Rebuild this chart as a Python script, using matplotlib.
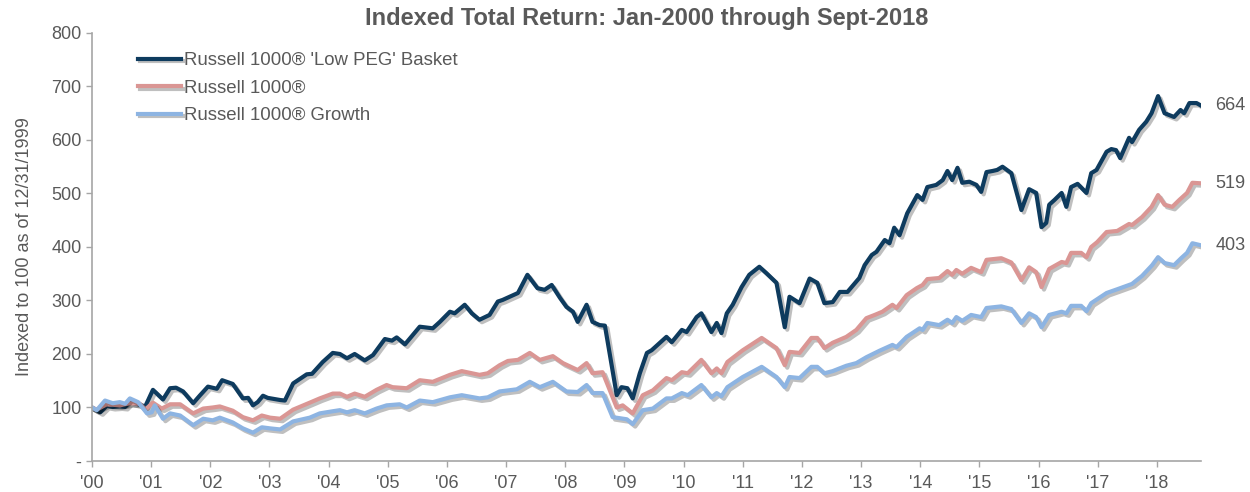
import matplotlib
matplotlib.use("Agg")
from matplotlib import pyplot as plt
import matplotlib.patheffects as pe

# data (decimal year, index level)
peg_x = [2000.00, 2000.14, 2000.25, 2000.35, 2000.47, 2000.56, 2000.64, 2000.78, 2000.90,
         2001.03, 2001.20, 2001.32, 2001.42, 2001.54, 2001.71, 2001.82, 2001.96,
         2002.11, 2002.20, 2002.38, 2002.55, 2002.64, 2002.72, 2002.80, 2002.89, 2002.97,
         2003.18, 2003.26, 2003.40, 2003.63, 2003.72, 2003.90,
         2004.07, 2004.19, 2004.31, 2004.44, 2004.61, 2004.75, 2004.95,
         2005.07, 2005.15, 2005.29, 2005.42, 2005.54, 2005.76, 2005.88,
         2006.05, 2006.13, 2006.30, 2006.42, 2006.55, 2006.72, 2006.86, 2006.94,
         2007.06, 2007.20, 2007.36, 2007.53, 2007.65, 2007.77, 2007.91,
         2008.02, 2008.13, 2008.21, 2008.36, 2008.46, 2008.58, 2008.67, 2008.87, 2008.95,
         2009.05, 2009.14, 2009.26, 2009.38, 2009.46, 2009.71, 2009.80, 2009.97,
         2010.05, 2010.22, 2010.30, 2010.47, 2010.56, 2010.64, 2010.73, 2010.83, 2010.98,
         2011.11, 2011.28, 2011.40, 2011.57, 2011.71, 2011.79, 2011.96,
         2012.13, 2012.26, 2012.38, 2012.52, 2012.64, 2012.77, 2012.97,
         2013.06, 2013.18, 2013.26, 2013.40, 2013.48, 2013.56, 2013.65, 2013.78, 2013.95,
         2014.04, 2014.12, 2014.27, 2014.38, 2014.46, 2014.54, 2014.63, 2014.71, 2014.83, 2014.95,
         2015.03, 2015.12, 2015.22, 2015.30, 2015.39, 2015.54, 2015.71, 2015.84, 2015.96,
         2016.05, 2016.13, 2016.18, 2016.27, 2016.39, 2016.47, 2016.55, 2016.66, 2016.81, 2016.89, 2016.98,
         2017.15, 2017.23, 2017.31, 2017.38, 2017.53, 2017.58, 2017.70, 2017.82, 2017.91,
         2018.02, 2018.13, 2018.29, 2018.40, 2018.46, 2018.55, 2018.67, 2018.75]
peg_y = [100, 91, 103, 101, 102, 101, 110, 106, 102,
         133, 115, 136, 137, 130, 108, 122, 139,
         135, 151, 144, 117, 118, 104, 110, 122, 118,
         114, 113, 145, 162, 163, 185,
         202, 200, 192, 200, 188, 198, 228,
         225, 231, 218, 235, 251, 248, 260,
         279, 276, 292, 276, 264, 273, 298, 301,
         307, 314, 348, 323, 320, 329, 305,
         288, 279, 260, 292, 260, 254, 253, 123, 138,
         136, 117, 164, 202, 207, 232, 222, 245,
         241, 269, 276, 241, 258, 239, 276, 292, 325,
         348, 363, 351, 333, 250, 307, 295,
         341, 333, 295, 297, 316, 316, 342,
         366, 385, 391, 413, 407, 436, 422, 463, 497,
         488, 512, 516, 525, 542, 525, 548, 520, 522, 516,
         503, 540, 542, 544, 550, 538, 469, 508, 501,
         437, 445, 479, 488, 501, 475, 512, 518, 501, 538, 544,
         578, 583, 581, 566, 604, 596, 619, 634, 650,
         682, 650, 643, 656, 650, 669, 669, 664]

r1000_x = [2000.00, 2000.08, 2000.25, 2000.47, 2000.64, 2000.81, 2000.90,
           2001.03, 2001.18, 2001.32, 2001.49, 2001.71, 2001.88,
           2002.04, 2002.16, 2002.38, 2002.55, 2002.72, 2002.87,
           2003.01, 2003.18, 2003.40, 2003.68, 2003.85,
           2004.07, 2004.19, 2004.31, 2004.44, 2004.61, 2004.81, 2004.98,
           2005.08, 2005.32, 2005.54, 2005.76,
           2006.05, 2006.25, 2006.55, 2006.69, 2006.89,
           2007.03, 2007.20, 2007.40, 2007.57, 2007.79, 2007.96,
           2008.21, 2008.36, 2008.46, 2008.63, 2008.87, 2008.97,
           2009.14, 2009.31, 2009.48, 2009.71, 2009.80, 2009.97,
           2010.07, 2010.30, 2010.47, 2010.56, 2010.64, 2010.74,
           2011.00, 2011.32, 2011.57, 2011.71, 2011.79, 2011.96,
           2012.16, 2012.26, 2012.38, 2012.52, 2012.75, 2012.92,
           2013.09, 2013.23, 2013.36, 2013.53, 2013.60, 2013.77, 2013.94,
           2014.04, 2014.12, 2014.32, 2014.46, 2014.54, 2014.61, 2014.71, 2014.86,
           2015.03, 2015.12, 2015.37, 2015.54, 2015.71, 2015.84, 2015.96,
           2016.05, 2016.18, 2016.39, 2016.47, 2016.55, 2016.72, 2016.81, 2016.89, 2016.99,
           2017.15, 2017.33, 2017.53, 2017.58, 2017.75, 2017.91,
           2018.02, 2018.13, 2018.26, 2018.38, 2018.51, 2018.60, 2018.75]
r1000_y = [100, 96, 106, 104, 108, 107, 96,
           109, 98, 106, 106, 89, 98,
           100, 102, 94, 82, 76, 85,
           81, 79, 96, 109, 117,
           126, 126, 120, 126, 120, 133, 142,
           138, 136, 151, 148,
           161, 168, 161, 164, 179,
           187, 189, 202, 189, 196, 183,
           170, 183, 164, 166, 100, 104,
           89, 123, 132, 155, 151, 166,
           164, 189, 164, 173, 164, 185,
           207, 230, 211, 179, 204, 202,
           230, 230, 211, 221, 232, 245,
           267, 273, 279, 292, 286, 310, 323,
           329, 340, 342, 355, 348, 357, 350, 361,
           353, 376, 379, 371, 338, 362, 353,
           325, 359, 372, 370, 389, 389, 381, 400, 409,
           428, 430, 443, 441, 456, 475,
           497, 479, 475, 488, 501, 520, 519]

growth_x = [2000.00, 2000.08, 2000.22, 2000.35, 2000.47, 2000.56, 2000.64, 2000.78, 2000.93,
            2001.01, 2001.06, 2001.20, 2001.32, 2001.49, 2001.71, 2001.88,
            2002.04, 2002.16, 2002.38, 2002.55, 2002.72, 2002.87,
            2003.01, 2003.18, 2003.40, 2003.68, 2003.85,
            2004.07, 2004.19, 2004.31, 2004.44, 2004.61, 2004.81, 2004.98,
            2005.20, 2005.32, 2005.54, 2005.76,
            2006.05, 2006.25, 2006.55, 2006.69, 2006.89,
            2007.18, 2007.40, 2007.57, 2007.79,
            2008.02, 2008.21, 2008.36, 2008.46, 2008.63, 2008.80, 2008.92,
            2009.04, 2009.14, 2009.31, 2009.48, 2009.71, 2009.80, 2009.97,
            2010.07, 2010.30, 2010.47, 2010.56, 2010.64, 2010.74,
            2011.00, 2011.32, 2011.57, 2011.71, 2011.79, 2011.96,
            2012.16, 2012.26, 2012.38, 2012.52, 2012.75, 2012.92,
            2013.09, 2013.31, 2013.53, 2013.60, 2013.77, 2013.99,
            2014.04, 2014.12, 2014.32, 2014.46, 2014.54, 2014.61, 2014.71, 2014.86,
            2015.03, 2015.12, 2015.37, 2015.54, 2015.71, 2015.84, 2015.96,
            2016.05, 2016.18, 2016.39, 2016.47, 2016.55, 2016.72, 2016.81, 2016.89,
            2017.15, 2017.33, 2017.58, 2017.75, 2017.92,
            2018.02, 2018.13, 2018.29, 2018.41, 2018.51, 2018.60, 2018.75]
growth_y = [100, 95, 113, 108, 110, 107, 117, 110, 89,
            91, 104, 79, 89, 85, 67, 79,
            76, 81, 72, 61, 53, 63,
            61, 59, 74, 81, 89,
            93, 95, 91, 95, 89, 98, 104,
            106, 100, 113, 110,
            119, 123, 117, 119, 130,
            134, 148, 138, 148,
            130, 129, 142, 127, 127, 82, 80,
            78, 69, 95, 98, 117, 117, 127,
            123, 142, 119, 127, 121, 138,
            157, 176, 157, 138, 157, 155,
            176, 176, 164, 168, 178, 183,
            194, 206, 217, 213, 232, 248,
            245, 258, 254, 264, 258, 269, 262, 273,
            269, 286, 289, 284, 258, 276, 269,
            250, 273, 279, 276, 290, 290, 280, 295,
            314, 321, 331, 346, 366,
            381, 370, 366, 379, 389, 407, 403]

names = ["Russell 1000\u00ae 'Low PEG' Basket", "Russell 1000\u00ae", "Russell 1000\u00ae Growth"]
colors = ["#0e3b5e", "#da9694", "#8db4e2"]
year_ticks = list(range(2000, 2019))
year_labels = ["'%02d" % (y % 100) for y in year_ticks]
y_ticks = [0, 100, 200, 300, 400, 500, 600, 700, 800]
y_labels = ["-"] + [str(v) for v in y_ticks[1:]]

plt.rcParams['font.family'] = ['Liberation Sans', 'DejaVu Sans']
grey = "#595959"

fig = plt.figure(figsize=(12.5, 4.92), dpi=100)
ax = fig.add_axes([0.0736, 0.063, 0.8874, 0.87])

shadow = [pe.SimpleLineShadow(offset=(1.8, -1.8), shadow_color='#000000', alpha=0.25),
          pe.Normal()]
series = [(peg_x, peg_y), (r1000_x, r1000_y), (growth_x, growth_y)]
for (xs, ys), nm, c in zip(series, names, colors):
    ax.plot(xs, ys, color=c, lw=3, label=nm, path_effects=shadow,
            solid_joinstyle='round')
    ax.annotate(str(ys[-1]), xy=(xs[-1], ys[-1]), xytext=(10, 0),
                textcoords='offset points', va='center', ha='left',
                fontsize=13, color=grey)

ax.set_xlim(2000, 2018.75)
ax.set_ylim(0, 800)
ax.set_xticks(year_ticks)
ax.set_xticklabels(year_labels, fontsize=13, color=grey)
ax.set_yticks(y_ticks)
ax.set_yticklabels(y_labels, fontsize=13, color=grey)
ax.tick_params(axis='both', direction='out', length=4, width=1, color='#a6a6a6')
ax.tick_params(axis='x', pad=6)
for s in ['top', 'right']:
    ax.spines[s].set_visible(False)
for s in ['left', 'bottom']:
    ax.spines[s].set_color('#a6a6a6')
    ax.spines[s].set_linewidth(1.2)

ax.set_ylabel("Indexed to 100 as of 12/31/1999", fontsize=13, color=grey, labelpad=13)
ax.set_title("Indexed Total Return: Jan-2000 through Sept-2018", fontsize=17,
             fontweight='bold', color=grey, pad=6)

leg = ax.legend(loc='upper left', bbox_to_anchor=(0.033, 0.977), frameon=False,
                borderpad=0, fontsize=13.4, handlelength=2.3, handletextpad=0.15,
                labelspacing=0.56)
for t in leg.get_texts():
    t.set_color(grey)

fig.savefig("out.png", dpi=100)
